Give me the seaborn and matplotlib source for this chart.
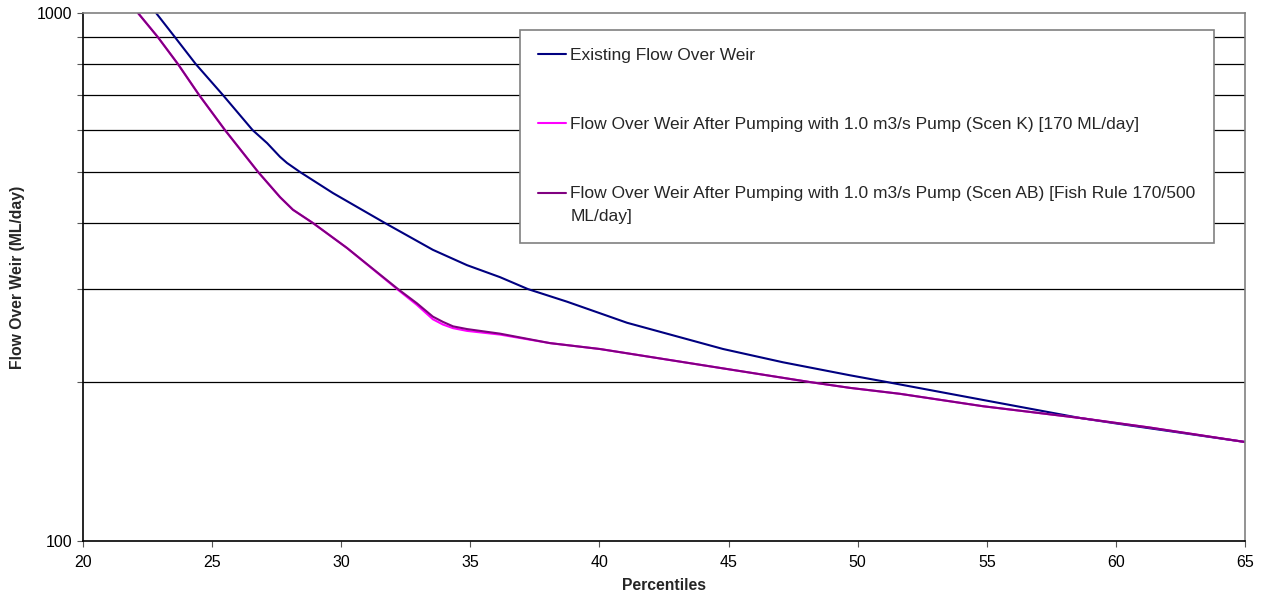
import matplotlib
matplotlib.use("Agg")
import matplotlib.pyplot as plt
from matplotlib.ticker import FixedLocator, NullFormatter, FixedFormatter
from matplotlib.legend_handler import HandlerLine2D
import pandas as pd
import seaborn as sns

# Percentile / flow pairs for each series (ML/day)
existing_pct = [22.83, 23.56, 24.37, 25.41, 26.57, 27.13, 27.63, 27.90, 28.40, 29.68,
                31.70, 33.55, 34.87, 36.15, 37.23, 38.74, 40.02, 41.07, 44.79, 47.11,
                49.70, 51.14, 54.85, 58.61, 60.00, 65.00]
existing_flow = [1000, 900, 800, 700, 600, 567, 534, 520, 500, 456,
                 400, 356, 333, 316, 300, 284, 270, 259, 231, 218,
                 206, 200, 185, 171, 167, 154]

scen_k_pct = [22.13, 22.90, 23.68, 24.49, 25.50, 26.78, 27.63, 28.13, 28.91, 30.22,
              32.20, 32.93, 33.55, 33.94, 34.33, 34.87, 36.15, 38.09, 40.02, 48.15,
              49.70, 51.64, 54.85, 58.61, 61.32, 65.00]
scen_k_flow = [1000, 900, 800, 700, 600, 500, 448, 424, 400, 359,
               299, 280, 263, 257, 253, 250, 246, 237, 231, 200,
               195, 190, 180, 171, 164, 154]

scen_ab_pct = [22.13, 22.90, 23.68, 24.49, 25.50, 26.78, 27.63, 28.13, 28.91, 30.22,
               32.20, 32.93, 33.55, 33.94, 34.33, 34.87, 36.15, 38.09, 40.02, 48.15,
               49.70, 51.64, 54.85, 58.61, 61.32, 65.00]
scen_ab_flow = [1000, 900, 800, 700, 600, 500, 448, 424, 400, 359,
                300, 282, 266, 260, 255, 252, 247, 237, 231, 200,
                195, 190, 180, 171, 164, 154]

series_names = [
    "Existing Flow Over Weir",
    "Flow Over Weir After Pumping with 1.0 m3/s Pump (Scen K) [170 ML/day]",
    "Flow Over Weir After Pumping with 1.0 m3/s Pump (Scen AB) [Fish Rule 170/500\nML/day]",
]
series_colors = ["#000080", "#FF00FF", "#800080"]

x_ticks = [20, 25, 30, 35, 40, 45, 50, 55, 60, 65]
y_major = [100, 1000]
y_minor = [200, 300, 400, 500, 600, 700, 800, 900]

frames = []
for name, xs, ys in zip(series_names,
                        [existing_pct, scen_k_pct, scen_ab_pct],
                        [existing_flow, scen_k_flow, scen_ab_flow]):
    frames.append(pd.DataFrame({"Percentile": xs, "Flow": ys, "Series": name}))
df = pd.concat(frames, ignore_index=True)

sns.set_style("white")
plt.rcParams["font.family"] = ["Liberation Sans", "DejaVu Sans"]

fig = plt.figure(figsize=(12.66, 6.05), dpi=100)
ax = fig.add_axes([83 / 1266, 64 / 605, 1162 / 1266, 528 / 605])

sns.lineplot(data=df, x="Percentile", y="Flow", hue="Series",
             hue_order=series_names, palette=series_colors,
             linewidth=1.5, ax=ax, legend=False, sort=True, estimator=None)

ax.set_yscale("log")
ax.set_xlim(20, 65)
ax.set_ylim(100, 1000)

ax.xaxis.set_major_locator(FixedLocator(x_ticks))
ax.set_xticklabels([str(t) for t in x_ticks])
ax.yaxis.set_major_locator(FixedLocator(y_major))
ax.yaxis.set_major_formatter(FixedFormatter([str(v) for v in y_major]))
ax.yaxis.set_minor_locator(FixedLocator(y_minor))
ax.yaxis.set_minor_formatter(NullFormatter())

for v in y_minor:
    ax.axhline(v, color="black", linewidth=0.9, zorder=0.5)

ax.tick_params(axis="both", which="both", direction="out", length=4, width=0.8,
               color="#555555", labelsize=11.5, labelcolor="black", pad=4,
               left=True, bottom=True)
ax.tick_params(axis="x", pad=6)

for side in ["left", "bottom"]:
    ax.spines[side].set_color("black")
    ax.spines[side].set_linewidth(1.2)
for side in ["top", "right"]:
    ax.spines[side].set_color("#808080")
    ax.spines[side].set_linewidth(1.2)

ax.set_xlabel("Percentiles", fontsize=11.3, fontweight="bold", labelpad=6)
ax.set_ylabel("Flow Over Weir (ML/day)", fontsize=11.3, fontweight="bold", labelpad=8)


class FirstLineHandler(HandlerLine2D):
    """Line handle aligned with the first line of a two-line label."""

    def __init__(self, lift_pts, **kw):
        super().__init__(**kw)
        self.lift_pts = lift_pts

    def create_artists(self, legend, orig_handle, xdescent, ydescent, width,
                       height, fontsize, trans):
        artists = super().create_artists(legend, orig_handle, xdescent, ydescent,
                                         width, height, fontsize, trans)
        for a in artists:
            a.set_ydata([y + self.lift_pts for y in a.get_ydata()])
        return artists


legend_fs = 12.5
handles = [plt.Line2D([], [], color=c, linewidth=1.5) for c in series_colors]
leg = ax.legend(handles, series_names, loc="upper left",
                bbox_to_anchor=(0.376, 0.968), fontsize=legend_fs, frameon=True,
                fancybox=False, edgecolor="#808080", framealpha=1,
                labelspacing=3.1, handlelength=1.6, handletextpad=0.25,
                borderpad=1.05, borderaxespad=0,
                handler_map={handles[2]: FirstLineHandler(lift_pts=9.0)})
leg.get_frame().set_linewidth(1.2)
for t in leg.get_texts():
    t.set_linespacing(1.7)

fig.savefig("out.png", dpi=100)
